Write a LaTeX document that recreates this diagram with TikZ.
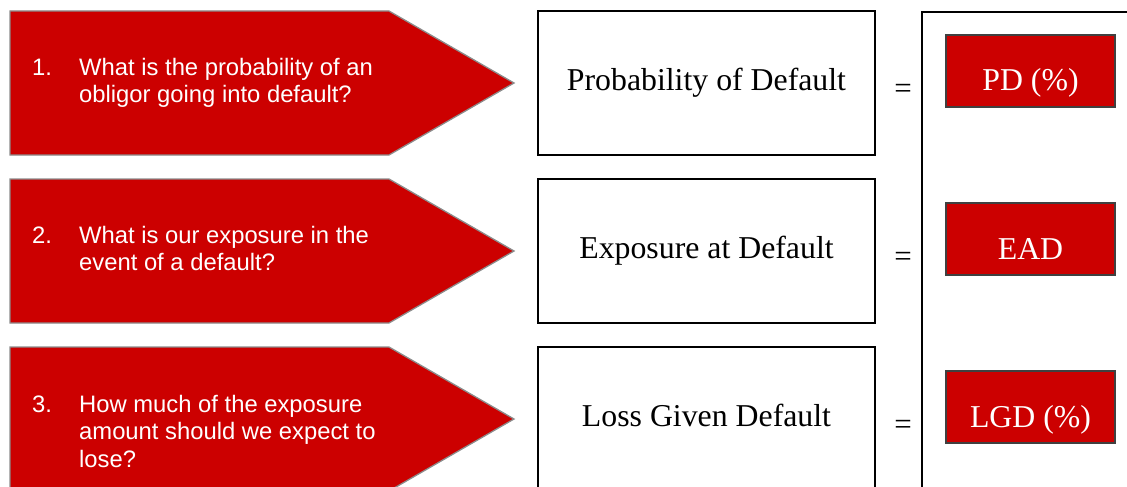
\documentclass[tikz,border=0pt]{standalone}
\usepackage{fontspec}
\setmainfont{Liberation Serif}
\newfontfamily\arialf{Liberation Sans}
\definecolor{dred}{HTML}{CC0000}
\definecolor{arrowedge}{HTML}{8C8C8C}
\definecolor{redboxedge}{HTML}{404040}
\tikzset{
  qarrow/.style={fill=dred, draw=arrowedge, line width=1.3pt, line join=miter},
  qnum/.style={anchor=base west, inner sep=0pt, text=white, font=\arialf\fontsize{23.8}{27.7}\selectfont},
  qtext/.style={anchor=base west, inner sep=0pt, text=white},
  whitebox/.style={draw=black, fill=white, line width=1.5pt, minimum width=337pt, minimum height=144pt, inner sep=0pt},
  boxtext/.style={anchor=base, inner sep=0pt, font=\fontsize{31.8}{36}\selectfont},
  redbox/.style={draw=redboxedge, fill=dred, line width=1.5pt, minimum width=169pt, minimum height=72pt, inner sep=0pt},
  redtext/.style={anchor=base, inner sep=0pt, text=white, font=\fontsize{31.8}{36}\selectfont},
  eqsign/.style={inner sep=0pt, font=\fontsize{31}{36}\selectfont},
  bracket/.style={draw=black, line width=1.5pt}
}
\newcommand{\qpar}[1]{\parbox[t]{420pt}{\arialf\fontsize{23.8}{27.7}\selectfont\raggedright #1}}
\begin{document}
\begin{tikzpicture}[x=1pt,y=-1pt]
\useasboundingbox (0,0) rectangle (1127,487);
\clip (0,0) rectangle (1127,487);
% arrows
\foreach \r in {0,168,336}{
  \draw[qarrow] (10,11+\r) -- (389,11+\r) -- (514,83+\r) -- (389,155+\r) -- (10,155+\r) -- cycle;
}
% question texts
\node[qnum] (n1) at (32,75) {1.};
\node[qtext] (q1) at (79,75) {\qpar{What is the probability of an\\obligor going into default?}};
\node[qnum] (n2) at (32,243) {2.};
\node[qtext] (q2) at (79,243) {\qpar{What is our exposure in the\\event of a default?}};
\node[qnum] (n3) at (32,412) {3.};
\node[qtext] (q3) at (79,412) {\qpar{How much of the exposure\\amount should we expect to\\lose?}};
% white boxes
\node[whitebox] (b1) at (706.5,83) {};
\node[whitebox] (b2) at (706.5,251) {};
\node[whitebox] (b3) at (706.5,419) {};
\node[boxtext] (t1) at (706.5,90) {Probability of Default};
\node[boxtext] (t2) at (706.5,258) {Exposure at Default};
\node[boxtext] (t3) at (706.5,426) {Loss Given Default};
% equals
\node[eqsign] (e1) at (903,91) {=};
\node[eqsign] (e2) at (903,259) {=};
\node[eqsign] (e3) at (903,427) {=};
% bracket box
\coordinate (bl) at (922,495);
\coordinate (tl) at (922,12);
\coordinate (tr) at (1135,12);
\draw[bracket] (bl) -- (tl) -- (tr);
% red boxes
\node[redbox] (r1) at (1030.5,71) {};
\node[redbox] (r2) at (1030.5,239) {};
\node[redbox] (r3) at (1030.5,407) {};
\node[redtext] (l1) at (1030.5,91) {PD (\%)};
\node[redtext] (l2) at (1030.5,259) {EAD};
\node[redtext] (l3) at (1030.5,427) {LGD (\%)};
\end{tikzpicture}
\end{document}
